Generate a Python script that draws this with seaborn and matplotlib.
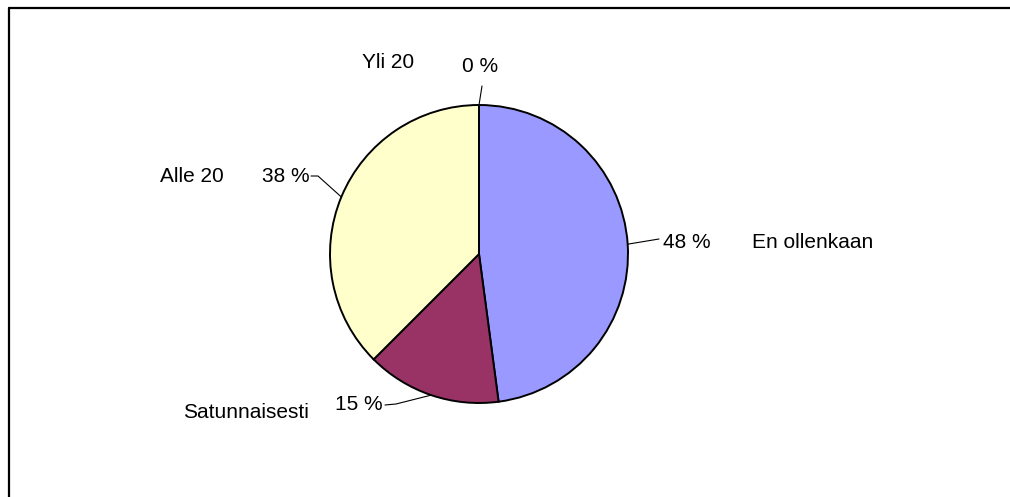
import numpy as np
import matplotlib
matplotlib.use("Agg")
import matplotlib.pyplot as plt
import seaborn as sns
from matplotlib.lines import Line2D

# Data
categories = ["En ollenkaan", "Satunnaisesti", "Alle 20", "Yli 20"]
values = [47.9, 14.6, 37.5, 0.0]
colors = ["#9999FF", "#993366", "#FFFFCC", "#FFFFFF"]

sns.set_theme(style="white")
plt.rcParams['font.family'] = ['Liberation Sans', 'DejaVu Sans']

W, H = 1010, 497
fig = plt.figure(figsize=(W / 100, H / 100), dpi=100)
ax = fig.add_axes([0, 0, 1, 1])

cx, cy, R = 479, H - 254, 149
wedges, _ = ax.pie(values, colors=colors, startangle=90, counterclock=False,
                   center=(cx, cy), radius=R, frame=True,
                   wedgeprops=dict(edgecolor="black", linewidth=1.4))
ax.set_xlim(0, W)
ax.set_ylim(0, H)
ax.set_aspect("equal")
ax.axis("off")

# label layout (pixel positions, y from top): pct text anchor, elbow, name anchor
layout = {
    "En ollenkaan": dict(pct=(663, 242, "left"), elbow=(659, 239), end=(659, 239),
                         name=(752, 243, "left")),
    "Satunnaisesti": dict(pct=(383, 405, "right"), elbow=(396, 404), end=(385, 405),
                          name=(183, 412, "left")),
    "Alle 20": dict(pct=(310, 176, "right"), elbow=(318, 176), end=(311, 176),
                    name=(160, 176, "left")),
    "Yli 20": dict(pct=(462, 66, "left"), elbow=(482, 86), end=(482, 86),
                   name=(362, 62, "left")),
}

fs = 15
for w, cat, v in zip(wedges, categories, values):
    mid = np.deg2rad((w.theta1 + w.theta2) / 2)
    ex, ey = cx + R * np.cos(mid), cy + R * np.sin(mid)
    L = layout[cat]
    bx, by = L["elbow"]
    qx, qy = L["end"]
    ax.plot([ex, bx, qx], [ey, H - by, H - qy], color="black", lw=0.8)
    px, py, ha = L["pct"]
    ax.text(px, H - py, f"{v:.0f} %", ha=ha, va="center", fontsize=fs, color="black")
    nx, ny, nha = L["name"]
    ax.text(nx, H - ny, cat, ha=nha, va="center", fontsize=fs, color="black")

# chart area border (cropped: only left and top visible)
fig.add_artist(Line2D([9 / W, 9 / W], [0, 1 - 8 / H], transform=fig.transFigure,
                      color="black", lw=1.6))
fig.add_artist(Line2D([9 / W, 1], [1 - 8 / H, 1 - 8 / H], transform=fig.transFigure,
                      color="black", lw=1.6))

fig.savefig("out.png", dpi=100, facecolor="white")
